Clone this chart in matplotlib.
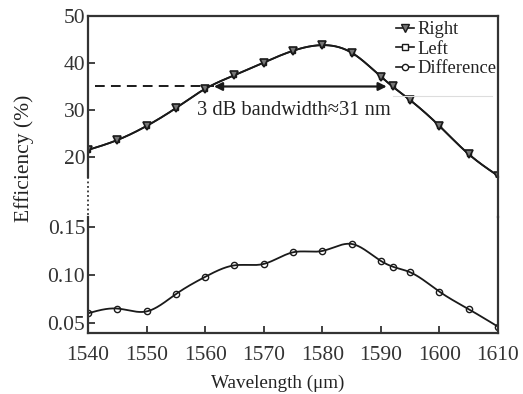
import numpy as np
import matplotlib
matplotlib.use("Agg")
import matplotlib.pyplot as plt
from matplotlib.lines import Line2D

plt.rcParams['font.family'] = ['Liberation Serif', 'DejaVu Serif']
plt.rcParams['mathtext.fontset'] = 'stix'

# ---------------- data ----------------
wl_upper = [1540, 1545, 1550, 1555, 1560, 1565, 1570, 1575, 1580, 1585,
            1590, 1592, 1595, 1600, 1605, 1610]
right_eff = [21.5, 23.6, 26.6, 30.4, 34.5, 37.4, 40.1, 42.6, 43.8, 42.2,
             37.1, 35.0, 32.1, 26.6, 20.6, 16.0]
left_eff = [21.5, 23.6, 26.6, 30.4, 34.5, 37.4, 40.1, 42.6, 43.8, 42.2,
            37.1, 35.0, 32.1, 26.6, 20.6, 16.0]
wl_diff = [1540, 1545, 1550, 1555, 1560, 1565, 1570, 1575, 1580, 1585,
           1590, 1592, 1595, 1600, 1605, 1610]
diff_eff = [0.060, 0.065, 0.062, 0.080, 0.098, 0.110, 0.1115, 0.1236, 0.125, 0.1323,
            0.1146, 0.1087, 0.1028, 0.0826, 0.0643, 0.0461]
half_level = 35.0
bw_start, bw_end = 1561.5, 1591.0
x_ticks = [1540, 1550, 1560, 1570, 1580, 1590, 1600, 1610]
upper_ticks = [20, 30, 40, 50]
lower_ticks = [0.05, 0.10, 0.15]


def natural_spline(x, y, xs):
    x = np.asarray(x, float); y = np.asarray(y, float)
    n = len(x); h = np.diff(x)
    A = np.zeros((n, n)); b = np.zeros(n)
    A[0, 0] = 1; A[-1, -1] = 1
    for i in range(1, n - 1):
        A[i, i - 1] = h[i - 1]; A[i, i] = 2 * (h[i - 1] + h[i]); A[i, i + 1] = h[i]
        b[i] = 6 * ((y[i + 1] - y[i]) / h[i] - (y[i] - y[i - 1]) / h[i - 1])
    M = np.linalg.solve(A, b)
    idx = np.clip(np.searchsorted(x, xs) - 1, 0, n - 2)
    x0 = x[idx]; x1 = x[idx + 1]; hh = x1 - x0
    t0 = x1 - xs; t1 = xs - x0
    return (M[idx] * t0**3 / (6 * hh) + M[idx + 1] * t1**3 / (6 * hh)
            + (y[idx] / hh - M[idx] * hh / 6) * t0
            + (y[idx + 1] / hh - M[idx + 1] * hh / 6) * t1)


W, H = 523, 394
fig = plt.figure(figsize=(W / 100, H / 100), dpi=100)
L, R = 88 / W, 498 / W
ax_u = fig.add_axes([L, 1 - 177 / H, R - L, (177 - 16) / H])
ax_l = fig.add_axes([L, 1 - 333 / H, R - L, (333 - 217) / H])

col = '#1a1a1a'
lw_sp = 1.6
for ax in (ax_u, ax_l):
    for s in ax.spines.values():
        s.set_linewidth(lw_sp); s.set_color('#333333')
    ax.set_xlim(1540, 1610)
ax_u.spines['bottom'].set_visible(False)
ax_l.spines['top'].set_visible(False)

xs = np.linspace(1540, 1610, 600)
# upper
ax_u.plot(xs, natural_spline(wl_upper, left_eff, xs), color=col, lw=1.3)
ax_u.plot(wl_upper, left_eff, ls='none', marker='s', ms=3.5, mfc='white', mec=col, mew=1.0)
ax_u.plot(xs, natural_spline(wl_upper, right_eff, xs), color=col, lw=1.3)
ax_u.plot(wl_upper, right_eff, ls='none', marker='v', ms=5.5, mfc='#777777', mec=col, mew=1.2)
ax_u.set_ylim(15.74, 50)
ax_u.set_yticks(upper_ticks)
ax_u.set_xticks([])
ax_u.tick_params(axis='y', direction='in', length=5, width=1.3, labelsize=15.5, pad=2, colors='#333333')

# 3 dB bandwidth marking
ax_u.plot([1541.2, bw_start], [half_level, half_level], ls=(0, (5, 3.2)), color=col, lw=1.4)
ax_u.annotate('', xy=(bw_start, half_level), xytext=(bw_end, half_level),
              arrowprops=dict(arrowstyle='<|-|>', color=col, lw=1.6,
                              mutation_scale=12, shrinkA=0, shrinkB=0))
ax_u.plot([1592, 1609], [33.0, 33.0], color='#dddddd', lw=0.8)
ax_u.text(1558.6, 29.8, '3 dB bandwidth≈31 nm', ha='left', va='center',
          fontsize=14.8, color='#222222')

# lower
ax_l.plot(xs, natural_spline(wl_diff, diff_eff, xs), color=col, lw=1.3)
ax_l.plot(wl_diff, diff_eff, ls='none', marker='o', ms=4.5, mfc='none', mec=col, mew=1.0)
ax_l.set_ylim(0.0395, 0.1604)
ax_l.set_yticks(lower_ticks)
ax_l.set_yticklabels(['0.05', '0.10', '0.15'])
ax_l.set_xticks(x_ticks)
ax_l.tick_params(axis='both', direction='in', length=5, width=1.3, labelsize=15.5, colors='#333333')
ax_l.tick_params(axis='x', pad=9)
ax_l.tick_params(axis='y', pad=2)

fig.text(277.5 / W, 1 - 388 / H, 'Wavelength (μm)', ha='center', va='baseline',
         fontsize=13.8, color='#222222')

# gap between the two axes: dotted on the left, solid on the right
fig.add_artist(Line2D([L, L], [1 - 177 / H, 1 - 217 / H], transform=fig.transFigure,
                      color='#333333', lw=1.3, ls=(0, (1, 1.5))))
fig.add_artist(Line2D([R, R], [1 - 177 / H, 1 - 217 / H], transform=fig.transFigure,
                      color='#333333', lw=lw_sp))

fig.text(24 / W, 1 - 158 / H, 'Efficiency (%)', rotation=90, ha='center', va='center',
         fontsize=15.5, color='#222222')

handles = [
    Line2D([], [], color=col, lw=1.2, marker='v', ms=5.5, mfc='#777777', mec=col),
    Line2D([], [], color=col, lw=1.2, marker='s', ms=4, mfc='white', mec=col),
    Line2D([], [], color=col, lw=1.2, marker='o', ms=4.5, mfc='white', mec=col),
]
fig.legend(handles, ['Right', 'Left', 'Difference'], loc='upper right',
           bbox_to_anchor=(496 / W, 1 - 21 / H), frameon=False, fontsize=13.3,
           handlelength=1.0, handletextpad=0.15, labelspacing=0.14, borderpad=0,
           borderaxespad=0, labelcolor='#222222')

fig.savefig('out.png', dpi=100)
